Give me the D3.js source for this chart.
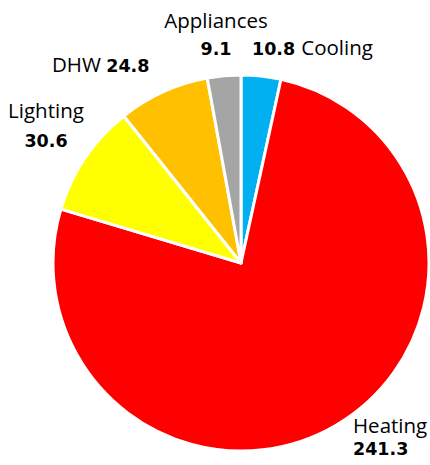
<!DOCTYPE html>
<html>
<head>
<meta charset="utf-8">
<script src="https://cdn.jsdelivr.net/npm/d3@7"></script>
<style>
  body { margin: 0; background: #fff; }
  svg { display: block; }
  .name { font-family: "Open Sans", sans-serif; font-size: 20.5px; fill: #000; }
  .val { font-family: "DejaVu Sans", sans-serif; font-weight: bold; font-size: 17.5px; fill: #000; }
</style>
</head>
<body>
<div id="chart"></div>
<script>
// end uses, clockwise from 12 o'clock
const categories = ["Cooling", "Heating", "Lighting", "DHW", "Appliances"];
const values = [10.8, 241.3, 30.6, 24.8, 9.1];
const colors = ["#00B0F0", "#FF0000", "#FFFF00", "#FFC000", "#A5A5A5"];

const width = 430, height = 465;
const cx = 241, cy = 263, radius = 188;

const svg = d3.select("#chart")
  .append("svg")
  .attr("width", width)
  .attr("height", height);

const group = svg.append("g").attr("transform", `translate(${cx},${cy})`);

const pie = d3.pie().sort(null).value((d) => d.value);
const arc = d3.arc().innerRadius(0).outerRadius(radius);

const rows = categories.map((c, i) => ({ name: c, value: values[i], color: colors[i] }));

group
  .selectAll(".slice")
  .data(pie(rows))
  .join("path")
  .attr("class", "slice")
  .attr("d", arc)
  .attr("fill", (d) => d.data.color)
  .attr("stroke", "#fff")
  .attr("stroke-width", 3)
  .attr("stroke-linejoin", "round");

// label placement (page coords), as Excel left them
const labelPos = {
  Cooling:    { layout: "inline-val-first", x: 252, y: 55 },
  Heating:    { layout: "stack", x: 353, y: 433, gap: 22, anchor: "start" },
  Lighting:   { layout: "stack", x: 46, y: 118, gap: 29, anchor: "middle" },
  DHW:        { layout: "inline", x: 52, y: 72 },
  Appliances: { layout: "stack", x: 216, y: 28, gap: 27, anchor: "middle" }
};

const labels = svg.append("g");
rows.forEach((d) => {
  const p = labelPos[d.name];
  if (p.layout === "stack") {
    labels.append("text").attr("class", "name")
      .attr("x", p.x).attr("y", p.y).attr("text-anchor", p.anchor)
      .text(d.name);
    labels.append("text").attr("class", "val")
      .attr("x", p.x).attr("y", p.y + p.gap).attr("text-anchor", p.anchor)
      .text(d.value.toFixed(1));
  } else {
    const t = labels.append("text").attr("x", p.x).attr("y", p.y);
    if (p.layout === "inline") {
      t.append("tspan").attr("class", "name").text(d.name + " ");
      t.append("tspan").attr("class", "val").text(d.value.toFixed(1));
    } else {
      t.append("tspan").attr("class", "val").text(d.value.toFixed(1) + " ");
      t.append("tspan").attr("class", "name").text(d.name);
    }
  }
});
</script>
</body>
</html>
